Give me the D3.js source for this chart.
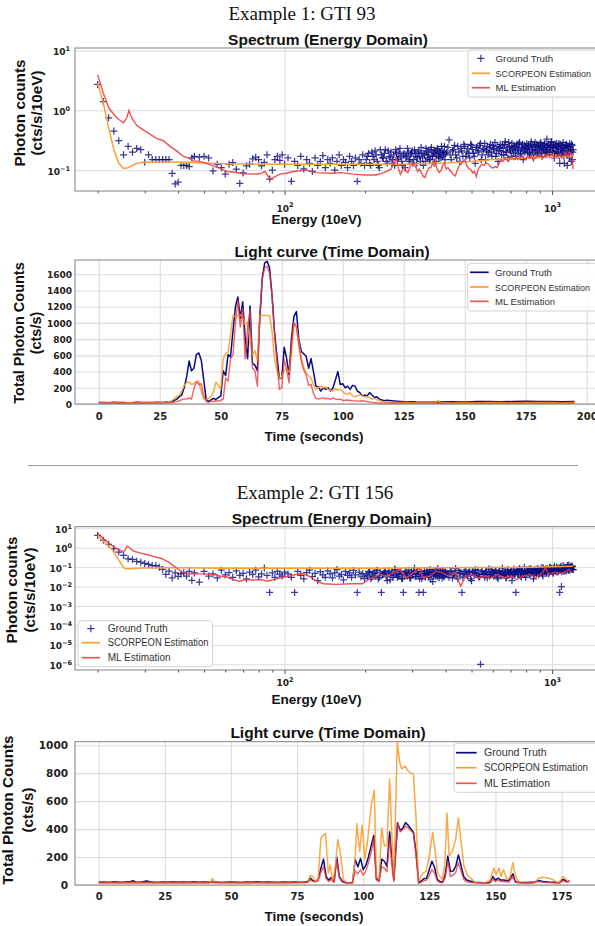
<!DOCTYPE html>
<html>
<head>
<meta charset="utf-8">
<script src="https://cdn.jsdelivr.net/npm/d3@7/dist/d3.min.js"></script>
<style>
html,body{margin:0;padding:0;background:#fff;}
svg{display:block;}
</style>
</head>
<body>
<svg id="fig" width="595" height="926" xmlns="http://www.w3.org/2000/svg"></svg>
<script>
// ======================= DATA =======================
const seriesNames = ["Ground Truth", "SCORPEON Estimation", "ML Estimation"];
const exampleTitles = ["Example 1: GTI 93", "Example 2: GTI 156"];
const spectrumTitle = "Spectrum (Energy Domain)";
const lightTitle = "Light curve (Time Domain)";
const spectrumYLabel = ["Photon counts", "(cts/s/10eV)"];
const lightYLabel = ["Total Photon Counts", "(cts/s)"];
const spectrumXLabel = "Energy (10eV)";
const lightXLabel = "Time (seconds)";

// tick labels
const specXTickExp = [2, 3];
const specXMinor = [20,30,40,50,60,70,80,90,200,300,400,500,600,700,800,900];
const spec93YTickExp = [-1, 0, 1];
const spec156YTickExp = [-6, -5, -4, -3, -2, -1, 0, 1];
const light93XTicks = [0, 25, 50, 75, 100, 125, 150, 175, 200];
const light93YTicks = [0, 200, 400, 600, 800, 1000, 1200, 1400, 1600];
const light156XTicks = [0, 25, 50, 75, 100, 125, 150, 175];
const light156YTicks = [0, 200, 400, 600, 800, 1000];

// Energy channels (10 eV) of Ground Truth markers
const gtEnergyA = d3.range(20, 46, 1);     // 20..45
const gtEnergyB = d3.range(46, 101, 2);    // 46..100
const gtEnergyC = d3.range(103, 200, 3);   // 103..199
const gtEnergyD = d3.range(202, 399, 4);   // 202..398
const gtEnergyE = d3.range(404, 1197, 8);  // 404..1196
const gtEnergyF = d3.range(204, 401, 4);   // 204..400
const gtEnergyG = d3.range(408, 1201, 8);  // 408..1200

// ---- Example 1 (GTI 93) spectrum ----
const gt93A = [2.7,1.4,0.75,0.45,0.31,0.18,0.25,0.2,0.23,0.22,0.135,0.18,0.15,0.15,0.15,0.15,0.15,0.15,0.088,0.059,0.063,0.12,0.12,0.12,0.115,0.16];
const gt93B = [0.17,0.165,0.17,0.16,0.097,0.125,0.11,0.086,0.125,0.134,0.104,0.06,0.09,0.118,0.126,0.155,0.165,0.15,0.118,0.135,0.18,0.071,0.1,0.15,0.17,0.145,0.18,0.125];
const gt93C = [0.16,0.065,0.14,0.12,0.17,0.105,0.15,0.13,0.095,0.16,
               0.12,0.14,0.175,0.11,0.15,0.13,0.16,0.1,0.14,0.18,
               0.12,0.15,0.135,0.11,0.17,0.14,0.12,0.16,0.065,0.15,
               0.13,0.18,0.12];
const gt93D = [0.15,0.19,0.12,0.17,0.21,0.14,0.11,0.18,0.16,0.22,
               0.13,0.17,0.2,0.15,0.12,0.19,0.16,0.23,0.14,0.18,
               0.11,0.17,0.2,0.15,0.19,0.13,0.22,0.17,0.16,0.21,
               0.14,0.19,0.12,0.18,0.23,0.16,0.2,0.15,0.24,0.17,
               0.13,0.21,0.18,0.22,0.16,0.19,0.25,0.17,0.2,0.15];
const gt93E = [0.2,0.32,0.15,0.22,0.18,0.25,0.14,0.21,0.27,0.17,
               0.23,0.16,0.26,0.19,0.13,0.24,0.21,0.28,0.18,0.22,
               0.15,0.25,0.2,0.27,0.17,0.23,0.29,0.19,0.14,0.24,
               0.21,0.26,0.18,0.3,0.2,0.16,0.25,0.22,0.28,0.19,
               0.24,0.17,0.27,0.21,0.29,0.19,0.23,0.15,0.26,0.22,
               0.28,0.2,0.24,0.18,0.3,0.22,0.16,0.26,0.21,0.27,
               0.19,0.25,0.23,0.29,0.17,0.24,0.21,0.28,0.2,0.33,
               0.22,0.26,0.18,0.25,0.3,0.2,0.24,0.16,0.27,0.21,
               0.25,0.19,0.28,0.13,0.23,0.26,0.2,0.29,0.17,0.24,
               0.21,0.27,0.12,0.25,0.19,0.28,0.22,0.14,0.26,0.2];
const gt93F = [0.17,0.13,0.2,0.15,0.18,0.12,0.22,0.16,0.19,0.14,
               0.21,0.16,0.13,0.18,0.22,0.15,0.2,0.17,0.12,0.19,
               0.16,0.23,0.14,0.18,0.21,0.15,0.19,0.13,0.2,0.17,
               0.24,0.16,0.19,0.14,0.21,0.18,0.15,0.22,0.17,0.2,
               0.19,0.14,0.23,0.17,0.2,0.16,0.21,0.18,0.25,0.19];
const gt93G = [0.24,0.18,0.21,0.26,0.16,0.2,0.23,0.17,0.25,0.2,
               0.19,0.27,0.22,0.17,0.24,0.2,0.26,0.15,0.23,0.28,
               0.21,0.18,0.24,0.2,0.26,0.22,0.17,0.25,0.21,0.27,
               0.18,0.23,0.27,0.2,0.24,0.29,0.21,0.17,0.23,0.26,
               0.2,0.25,0.22,0.28,0.18,0.24,0.27,0.21,0.2,0.25,
               0.23,0.26,0.19,0.27,0.22,0.25,0.2,0.29,0.24,0.18,
               0.26,0.22,0.28,0.2,0.25,0.23,0.27,0.19,0.24,0.22,
               0.27,0.2,0.24,0.29,0.21,0.26,0.23,0.19,0.25,0.28,
               0.2,0.24,0.17,0.27,0.22,0.18,0.25,0.21,0.13,0.26,
               0.23,0.18,0.25,0.2,0.16,0.24,0.21,0.27,0.15,0.22];
const sc93Energy = [20,21,22,23,24,25,26,28,30,35,40,50,60,80,100,150,200,300,400,500,600,800,1000,1200];
const sc93Value  = [2.85,1.33,0.51,0.22,0.13,0.107,0.11,0.13,0.135,0.137,0.137,0.132,0.128,0.126,0.125,0.125,0.125,0.127,0.132,0.14,0.15,0.16,0.165,0.17];
const ml93Energy = [20,21,22,23,24,25,25.7,26.2,26.8,28,
  29.6,31.4,33.2,35.2,37.3,39.5,41.8,43.7,45.6,48.3,
  51.1,54.1,57.3,60.7,64.3,68.1,72.1,76.4,80.9,84.5,
  88.2,90.8,96.1,101.8,107.9,114,121,130,148,163,
  180,199,219,234,250,256,262,266,271,276,
  280,285,289,295,300,304,310,315,319,325,
  330,335,341,347,352,358,363,368,374,379,
  385,390,396,402,408,414,420,427,435,442,
  450,457,464,472,480,488,496,505,513,521,
  530,538,547,556,565,574,584,594,604,614,
  624,634,644,655,666,676,688,699,710,722,
  734,746,758,770,783,796,809,822,836,850,
  864,878,893,907,922,937,953,968,984,1000,
  1017,1034,1051,1068,1086,1104,1122,1140,1159,1178,
  1190,1197];
const ml93Value = [3.9,1.94,1.1,0.85,0.7,0.62,0.75,0.99,0.75,0.56,
  0.47,0.4,0.34,0.31,0.25,0.21,0.17,0.16,0.143,0.14,
  0.13,0.118,0.108,0.095,0.093,0.089,0.087,0.086,0.087,0.095,
  0.071,0.075,0.086,0.089,0.095,0.098,0.1,0.091,0.089,0.091,
  0.086,0.083,0.083,0.09,0.104,0.13,0.156,0.11,0.085,0.1,
  0.12,0.095,0.091,0.115,0.13,0.13,0.11,0.095,0.104,0.09,
  0.079,0.075,0.095,0.11,0.11,0.13,0.15,0.12,0.1,0.091,
  0.1,0.12,0.13,0.105,0.11,0.1,0.095,0.085,0.08,0.1,
  0.12,0.125,0.14,0.15,0.12,0.105,0.104,0.09,0.095,0.078,
  0.105,0.115,0.125,0.12,0.13,0.13,0.12,0.11,0.11,0.115,
  0.11,0.13,0.15,0.14,0.155,0.15,0.14,0.165,0.16,0.15,
  0.165,0.15,0.16,0.17,0.16,0.15,0.17,0.16,0.175,0.15,
  0.16,0.18,0.17,0.18,0.16,0.175,0.17,0.19,0.18,0.19,
  0.16,0.18,0.17,0.185,0.16,0.18,0.2,0.17,0.2,0.19,
  0.17,0.104];

// ---- Example 1 (GTI 93) light curve ----
const gt93Time = [0,2,4,6,8,10,12,14,16,18,20,22,24,26,28,30,
  31,32,33,34,35,36,37,38,39,40,41,42,43,44,45,46,47,48,49,50,
  51,52,53,54,55,56,57,58,59,60,61,62,63,64,65,66,67,68,69,70,
  71,72,73,74,75,76,77,78,79,80,81,82,83,84,85,86,87,88,89,90,
  91,92,93,94,95,96,97,98,99,100,101,102,103,104,105,106,107,108,109,110,
  111,112,113,114,115,116,117,118,
  120,122,124,126,128,130,
  135,140,145,150,155,160,165,170,175,180,185,190,195];
const gt93Counts = [18,20,15,22,17,20,16,18,22,17,20,18,22,20,25,30,
  45,60,90,110,200,330,530,410,440,610,
  630,540,300,60,30,50,70,55,80,100,
  410,350,610,580,900,1200,1320,1060,1260,820,
  560,1210,500,480,410,1050,1550,1740,1760,1680,
  1350,900,600,310,320,700,560,360,820,1080,
  1140,800,650,620,590,440,560,400,220,210,
  160,200,180,200,160,200,300,400,240,250,
  200,220,180,230,220,160,140,100,110,100,
  140,110,80,90,60,50,40,45,
  40,35,30,25,28,25,
  22,25,28,25,30,32,28,30,35,30,32,28,30];
const sc93Time = [0,5,10,13,15,20,25,28,
  30,31,32,33,34,35,36,37,38,39,40,
  41,42,43,44,45,46,47,48,49,50,
  51,52,53,54,55,56,57,58,59,60,
  61,62,63,64,65,66,67,68,69,70,
  71,72,73,74,75,76,77,78,79,80,
  81,82,83,84,85,86,87,88,89,90,
  91,92,93,94,95,96,97,98,99,100,
  101,102,103,104,105,106,107,108,109,110,
  111,112,113,114,115,116,
  118,120,125,130,135,138,139,140,145,150,155,160,165,170,175,180,185,190,195];
const sc93Counts = [12,15,12,20,14,15,18,22,
  40,70,90,110,160,230,260,275,240,250,275,
  280,150,60,50,70,90,150,270,230,180,
  560,620,640,850,1090,1080,1090,1100,1060,980,
  1010,750,600,660,530,1090,1090,1090,1090,1090,
  900,560,420,310,330,420,430,390,620,980,
  960,760,560,460,380,350,320,240,180,200,
  220,200,210,180,170,160,190,170,180,150,
  130,120,140,100,90,100,110,100,90,85,
  80,60,70,50,45,30,
  25,20,18,15,18,20,45,18,15,18,15,18,20,15,18,20,18,15,18];
const ml93Time = [0,3,6,9,12,15,18,21,24,27,30,
  32,33,34,35,36,37,38,39,40,
  41,42,43,44,45,46,47,48,49,50,
  51,52,53,54,55,56,57,58,59,60,
  61,62,63,64,65,66,67,68,69,70,
  71,72,73,74,75,76,77,78,79,80,
  81,82,83,84,85,86,87,88,89,90,
  91,92,93,94,95,96,97,98,99,100,
  102,104,106,108,110,112,114,116,120,130,140,150,160,170,180,190,195];
const ml93Counts = [10,14,10,13,10,12,10,13,11,12,15,
  30,40,55,60,60,75,60,190,280,
  240,250,100,30,20,35,30,40,35,45,
  60,320,280,560,600,990,1280,950,1180,560,
  930,1160,440,410,220,1100,1540,1680,1700,1610,
  1340,880,530,180,200,550,420,260,740,1010,
  950,720,530,420,360,230,240,130,70,60,
  70,75,65,70,55,75,60,55,60,45,
  50,40,35,40,30,20,15,12,10,12,10,12,10,12,10,12,10];

// ---- Example 2 (GTI 156) spectrum ----
const gt156A = [4.3,2.4,1.5,0.9,0.6,0.4,0.27,0.25,0.2,0.18,0.155,0.137,0.12,0.12,0.1,0.076,0.042,0.062,0.028,0.05,0.034,0.045,0.051,0.035,0.06,0.021];
const gt156B = [0.05,0.017,0.06,0.035,0.045,0.028,0.07,0.04,0.052,0.03,0.065,0.038,0.048,0.025,0.055,0.042,0.07,0.032,0.045,0.09,0.038,0.005,0.05,0.03,0.06,0.044,0.035,0.055];
const gt156C = [0.045,0.03,0.005,0.06,0.038,0.025,0.052,0.07,0.033,0.048,
                0.02,0.058,0.04,0.03,0.065,0.045,0.028,0.05,0.075,0.035,
                0.042,0.022,0.06,0.038,0.05,0.03,0.068,0.04,0.005,0.055,
                0.032,0.047,0.026];
const gt156D = [0.04,0.06,0.025,0.05,0.035,0.07,0.03,0.005,0.045,0.055,
                0.02,0.065,0.04,0.03,0.08,0.045,0.035,0.06,0.025,0.005,
                0.05,0.038,0.07,0.028,0.055,0.042,0.09,0.033,0.06,0.005,
                0.045,0.025,0.005,0.065,0.04,0.052,0.03,0.075,0.045,0.018,
                0.06,0.035,0.05,0.085,0.028,0.055,0.04,0.07,0.032,0.06];
const gt156E = [0.05,0.03,0.065,0.04,0.085,0.025,0.055,0.005,0.045,0.07,
                0.035,0.06,0.02,0.05,0.075,0.04,0.03,0.000001,0.065,0.045,
                0.055,0.028,0.08,0.042,0.06,0.035,0.07,0.05,0.025,0.065,
                0.045,0.09,0.038,0.055,0.03,0.075,0.048,0.062,0.02,0.058,
                0.04,0.005,0.07,0.05,0.085,0.035,0.06,0.045,0.1,0.03,
                0.065,0.05,0.08,0.04,0.07,0.055,0.025,0.075,0.06,0.045,
                0.085,0.04,0.065,0.055,0.095,0.035,0.07,0.06,0.08,0.05,
                0.075,0.045,0.1,0.06,0.085,0.07,0.05,0.11,0.065,0.08,
                0.055,0.09,0.07,0.005,0.1,0.01,0.075,0.12,0.06,0.085,
                0.095,0.065,0.11,0.08,0.13,0.07,0.1,0.09,0.115,0.075];
const gt156F = [0.035,0.055,0.03,0.045,0.065,0.025,0.05,0.04,0.06,0.032,
                0.048,0.022,0.055,0.038,0.07,0.03,0.045,0.058,0.026,0.042,
                0.062,0.035,0.05,0.028,0.045,0.068,0.033,0.055,0.04,0.025,
                0.058,0.036,0.048,0.03,0.065,0.042,0.052,0.024,0.06,0.038,
                0.045,0.07,0.032,0.05,0.04,0.062,0.028,0.055,0.035,0.048];
const gt156G = [0.04,0.06,0.028,0.05,0.035,0.068,0.045,0.03,0.058,0.04,
                0.052,0.025,0.062,0.038,0.048,0.07,0.033,0.055,0.042,0.03,
                0.06,0.045,0.035,0.072,0.05,0.04,0.065,0.03,0.055,0.048,
                0.038,0.062,0.045,0.028,0.07,0.052,0.04,0.06,0.035,0.08,
                0.05,0.065,0.042,0.075,0.055,0.03,0.068,0.048,0.06,0.04,
                0.058,0.072,0.045,0.085,0.05,0.065,0.038,0.07,0.055,0.08,
                0.06,0.048,0.078,0.065,0.045,0.09,0.058,0.07,0.05,0.085,
                0.068,0.055,0.095,0.06,0.075,0.05,0.088,0.07,0.062,0.1,
                0.075,0.06,0.09,0.068,0.11,0.058,0.085,0.072,0.1,0.065,
                0.09,0.078,0.12,0.07,0.095,0.085,0.11,0.08,0.105,0.075];
const sc156Energy = [20,21.3,22.6,23.5,24.6,25.2,26.3,29,35,40,60,100,140,200,300,400,600,800,1000,1200];
const sc156Value  = [4.3,1.8,0.82,0.37,0.137,0.085,0.082,0.09,0.092,0.092,0.088,0.087,0.087,0.088,0.09,0.092,0.095,0.1,0.105,0.11];
const ml156Energy = [20,21.3,22.6,23.5,24.6,25.2,25.8,26.3,27.3,29.2,
  31,32.8,34.7,36.8,39,41.4,43.1,46,50.1,54.5,
  57.5,60.7,64,68,72,76.4,81,86.2,91.6,97.3,
  103.4,110,116.8,124,131.8,140,156,179,195,206,
  228,241,255,270,286,302,320,329,348,368,
  390,412,436,455,475,503,531,561,593,626,
  662,699,738,780,824,870,919,945,971,1026,
  1083,1130,1160,1180];
const ml156Value = [5.5,2.5,1.3,0.89,0.67,0.67,1.22,1.0,0.67,0.51,
  0.42,0.34,0.28,0.18,0.104,0.055,0.045,0.045,0.045,0.042,
  0.034,0.032,0.023,0.019,0.023,0.022,0.023,0.019,0.023,0.028,
  0.034,0.042,0.047,0.034,0.019,0.014,0.013,0.014,0.014,0.023,
  0.042,0.034,0.051,0.076,0.028,0.051,0.082,0.028,0.034,0.062,
  0.051,0.034,0.051,0.0104,0.034,0.042,0.028,0.034,0.028,0.042,
  0.028,0.034,0.023,0.034,0.042,0.03,0.051,0.093,0.042,0.055,
  0.047,0.062,0.076,0.051];

// ---- Example 2 (GTI 156) light curve ----
const gt156Time = [0,2,4,6,8,10,12,13,14,16,18,20,22,24,26,28,30,32,34,36,
  38,40,42,44,46,48,50,52,54,56,58,60,62,64,66,68,70,72,74,76,
  78,79,80,81,82,83,84,85,86,87,88,89,90,91,92,93,94,95,96,97,
  98,99,100,101,102,103,104,105,106,107,108,109,110,111,111.6,113,114,115,116,117,
  118,119,120,121,122,123,124,125,126,127,128,129,130,131,132,133,134,135,136,137,
  138,139,140,142,144,146,148,149,150,151,152,153,155,156.6,157.5,159,162,165,166,168,
  170,172,174,175.6,177,178];
const gt156Counts = [20,22,18,24,20,22,25,30,22,20,28,22,18,22,20,24,20,22,19,24,
  20,22,20,22,18,20,22,20,18,22,20,24,20,22,20,18,22,20,22,20,
  22,25,50,30,28,40,120,185,60,35,55,25,200,60,30,20,15,15,20,183,
  130,190,110,140,200,280,354,45,30,185,170,135,380,160,37,446,390,407,446,427,
  402,378,232,15,30,45,49,110,170,125,40,25,20,73,207,98,100,134,215,140,
  61,37,30,20,18,15,20,61,35,49,35,35,30,80,25,20,18,22,32,25,
  22,20,18,40,25,30];
const sc156Time = [0,5,10,15,20,25,30,35,40,42,
  43,44,50,55,60,65,70,75,78,79,
  80,81,82,83,84,85,85.8,86.8,87.5,88.5,
  89.5,90.4,91.4,92.5,94,96,97,97.6,98.7,99.6,
  100.6,101.6,103,104.2,105,106,107,108,109,110,
  111,111.6,112.9,113.8,114.6,115.9,116.9,118.1,119,120,
  120.9,122.5,123.8,125,126.3,127.1,128.1,130,130.9,131.7,
  132.5,133.8,135,136,136.9,138.1,139.4,140.6,142.5,145.6,
  148.1,149.4,150.3,151.3,152.1,153.1,154.1,155.4,156.6,157.5,
  158.8,162,165,166.3,168.1,170,171.9,173.8,175.6,176.9,178];
const sc156Counts = [12,14,12,14,12,14,12,14,12,15,
  45,15,12,14,12,14,12,14,14,20,
  70,60,25,40,333,357,370,83,143,24,
  130,326,226,40,15,12,200,440,240,428,
  183,305,560,680,61,40,410,280,280,760,
  280,49,1020,880,830,850,817,800,795,475,
  25,85,98,207,378,256,85,37,160,515,
  207,244,330,480,330,134,73,49,17,12,
  37,122,73,122,61,110,49,49,160,73,
  15,12,15,49,56,49,37,12,61,37,20];
const ml156Time = [0,4,8,12,16,20,24,28,32,36,40,44,48,52,56,60,64,68,72,76,
  79,80,81,82,83,84,85,86,87,88,
  89,90,91,92,93,95,96,97,98,99,
  100,101,102,103,104,105,106,107,108,109,
  110,111,111.6,113,114,115,116,117,118,119,
  120,121,122,123,124,125,126,127,128,129,
  130,131,132,133,134,135,136,137,138,139,
  140,142,146,148,149,150,151,152,153,155,
  156.6,157.5,159,163,166,168,170,172,174,175.6,
  177,178];
const ml156Counts = [18,20,18,20,18,20,18,20,18,20,18,20,18,20,18,20,18,20,18,20,
  20,35,25,22,30,90,130,45,25,40,
  20,170,50,22,15,12,15,100,80,110,
  70,100,160,230,330,35,25,130,120,95,
  330,110,25,440,380,395,420,410,390,370,
  210,12,20,30,35,70,110,85,30,18,
  15,50,170,60,70,90,160,100,40,25,
  20,15,12,15,40,25,35,25,25,20,
  60,20,15,12,25,20,18,15,12,30,
  20,25];

// ======================= DRAWING =======================
const svg = d3.select("#fig");
const SANS = "'Liberation Sans', Arial, Helvetica, sans-serif";
const DJV = "'DejaVu Sans', Verdana, sans-serif";
const SERIF = "'Liberation Serif', 'Times New Roman', serif";
const COL = {gt: "#0a0a82", sc: "#f9a033", ml: "#ee3a3a", grid: "#dcdcdc", spine: "#808080", text: "#111"};

function zip(xs, ys) {
  const n = Math.min(xs.length, ys.length);
  return d3.range(n).map(i => [xs[i], ys[i]]);
}
const gtSpec93 = [].concat(zip(gtEnergyA, gt93A), zip(gtEnergyB, gt93B), zip(gtEnergyC, gt93C),
  zip(gtEnergyD, gt93D), zip(gtEnergyF, gt93F), zip(gtEnergyE, gt93E), zip(gtEnergyG, gt93G));
const gtSpec156 = [].concat(zip(gtEnergyA, gt156A), zip(gtEnergyB, gt156B), zip(gtEnergyC, gt156C),
  zip(gtEnergyD, gt156D), zip(gtEnergyF, gt156F), zip(gtEnergyE, gt156E), zip(gtEnergyG, gt156G));

function txt(x, y, s, o = {}) {
  return svg.append("text").attr("x", x).attr("y", y)
    .attr("text-anchor", o.anchor || "middle")
    .attr("font-family", o.family || SANS)
    .attr("font-weight", o.weight || "normal")
    .attr("font-size", o.size || 12)
    .attr("fill", o.fill || COL.text)
    .text(s);
}
function yLabel(lines, xs, yc, size) {
  lines.forEach((s, i) => {
    svg.append("text").attr("transform", `translate(${xs[i]},${yc}) rotate(-90)`)
      .attr("text-anchor", "middle").attr("font-family", SANS).attr("font-weight", "bold")
      .attr("font-size", size).attr("fill", COL.text).text(s);
  });
}
function supText(sel, exp, size) {
  sel.text(null);
  sel.append("tspan").text("10");
  sel.append("tspan").attr("dy", -size * 0.45).attr("font-size", size * 0.72)
    .text(exp < 0 ? "\u2212" + (-exp) : String(exp));
}
function plusPath(px, py, r) {
  return `M${px - r},${py}H${px + r}M${px},${py - r}V${py + r}`;
}
function legend(o) {
  const g = svg.append("g");
  g.append("rect").attr("x", o.x).attr("y", o.y).attr("width", o.w).attr("height", o.h).attr("rx", 3)
    .attr("fill", "#fff").attr("fill-opacity", 0.85).attr("stroke", "#d2d2d2").attr("stroke-width", 1);
  const cols = [COL.gt, COL.sc, COL.ml];
  seriesNames.forEach((name, i) => {
    const yy = o.rows[i];
    if (i === 0 && o.marker) {
      g.append("path").attr("d", plusPath((o.lx0 + o.lx1) / 2, yy, 3.6))
        .attr("stroke", COL.gt).attr("stroke-opacity", 0.8).attr("stroke-width", 1.2).attr("fill", "none");
    } else {
      g.append("line").attr("x1", o.lx0).attr("x2", o.lx1).attr("y1", yy).attr("y2", yy)
        .attr("stroke", cols[i]).attr("stroke-width", 1.7).attr("stroke-opacity", i === 2 ? 0.85 : 1);
    }
    g.append("text").attr("x", o.tx).attr("y", yy + 3.6).attr("font-family", SANS)
      .attr("font-size", o.size).attr("fill", "#333")
      .attr("textLength", o.widths[i]).attr("lengthAdjust", "spacingAndGlyphs").text(name);
  });
}

let clipCount = 0;
function makeClip(l, t, w, h) {
  const id = "clip" + (clipCount++);
  svg.append("clipPath").attr("id", id).append("rect").attr("x", l).attr("y", t).attr("width", w).attr("height", h);
  return id;
}
function frame(o) {
  svg.append("rect").attr("x", o.left).attr("y", o.top).attr("width", o.right - o.left).attr("height", o.bottom - o.top)
    .attr("fill", "none").attr("stroke", COL.spine).attr("stroke-width", 1);
}

function spectrum(o) {
  const x = d3.scaleLog().domain(o.xDomain).range([o.left, o.right]);
  const y = d3.scaleLog().domain(o.yDomain).range([o.bottom, o.top]);
  const w = o.right - o.left, h = o.bottom - o.top;
  const gy = svg.append("g").attr("transform", `translate(${o.left},0)`)
    .call(d3.axisLeft(y).tickValues(o.yExp.map(e => Math.pow(10, e))).tickSize(-w).tickFormat(""));
  gy.select(".domain").remove();
  gy.selectAll(".tick line").attr("stroke", COL.grid).attr("stroke-width", 1);
  const gx = svg.append("g").attr("transform", `translate(0,${o.bottom})`)
    .call(d3.axisBottom(x).tickValues(specXTickExp.map(e => Math.pow(10, e))).tickSize(-h).tickFormat(""));
  gx.select(".domain").remove();
  gx.selectAll(".tick line").attr("stroke", COL.grid).attr("stroke-width", 1);
  const cid = makeClip(o.left, o.top, w, h);
  const plot = svg.append("g").attr("clip-path", `url(#${cid})`);
  plot.append("g").selectAll("path").data(o.gt).join("path")
    .attr("d", d => plusPath(x(d[0]), y(d[1]), 3.5))
    .attr("stroke", COL.gt).attr("stroke-opacity", 0.8).attr("stroke-width", 1.25).attr("fill", "none");
  const line = d3.line().x(d => x(d[0])).y(d => y(d[1]));
  plot.append("path").datum(o.sc).attr("d", line).attr("fill", "none")
    .attr("stroke", COL.sc).attr("stroke-width", 1.5);
  plot.append("path").datum(o.ml).attr("d", line).attr("fill", "none")
    .attr("stroke", COL.ml).attr("stroke-opacity", 0.88).attr("stroke-width", 1.4);
  frame(o);
  const mn = svg.append("g").attr("transform", `translate(0,${o.bottom})`)
    .call(d3.axisBottom(x).tickValues(specXMinor).tickSize(2.5).tickFormat(""));
  mn.select(".domain").remove();
  mn.selectAll(".tick line").attr("stroke", "#555");
  const mj = svg.append("g").attr("transform", `translate(0,${o.bottom})`)
    .call(d3.axisBottom(x).tickValues(specXTickExp.map(e => Math.pow(10, e))).tickSize(4));
  mj.select(".domain").remove();
  mj.selectAll(".tick line").attr("stroke", "#555");
  mj.selectAll(".tick text").each(function (d) { supText(d3.select(this), Math.round(Math.log10(d)), o.xtSize); })
    .attr("y", o.xtBase - o.bottom).attr("dy", null)
    .attr("font-family", DJV).attr("font-weight", "bold").attr("font-size", o.xtSize).attr("fill", "#222");
  const ya = svg.append("g").attr("transform", `translate(${o.left},0)`)
    .call(d3.axisLeft(y).tickValues(o.yExp.map(e => Math.pow(10, e))).tickSize(0));
  ya.select(".domain").remove();
  ya.selectAll(".tick text").each(function (d) { supText(d3.select(this), Math.round(Math.log10(d)), o.ytSize); })
    .attr("x", o.ytRight - o.left).attr("dy", "0.45em")
    .attr("font-family", DJV).attr("font-weight", "bold").attr("font-size", o.ytSize).attr("fill", "#222");
  txt(o.titleX, o.titleY, spectrumTitle, {weight: "bold", size: 15.5});
  txt(o.xlabX, o.xlabY, spectrumXLabel, {weight: "bold", size: 13.5});
  yLabel(spectrumYLabel, o.ylabXs, o.ylabY, 15.3);
  legend(o.legend);
}

function light(o) {
  const x = d3.scaleLinear().domain(o.xDomain).range([o.left, o.right]);
  const y = d3.scaleLinear().domain(o.yDomain).range([o.bottom, o.top]);
  const w = o.right - o.left, h = o.bottom - o.top;
  const gy = svg.append("g").attr("transform", `translate(${o.left},0)`)
    .call(d3.axisLeft(y).tickValues(o.yTicks).tickSize(-w).tickFormat(""));
  gy.select(".domain").remove();
  gy.selectAll(".tick line").attr("stroke", COL.grid).attr("stroke-width", 1.1);
  const gx = svg.append("g").attr("transform", `translate(0,${o.bottom})`)
    .call(d3.axisBottom(x).tickValues(o.xTicks).tickSize(-h).tickFormat(""));
  gx.select(".domain").remove();
  gx.selectAll(".tick line").attr("stroke", COL.grid).attr("stroke-width", 1.1);
  const cid = makeClip(o.left, o.top, w, h);
  const plot = svg.append("g").attr("clip-path", `url(#${cid})`);
  const line = d3.line().x(d => x(d[0])).y(d => y(d[1]));
  plot.append("path").datum(o.gt).attr("d", line).attr("fill", "none")
    .attr("stroke", COL.gt).attr("stroke-width", 1.5).attr("stroke-linejoin", "round");
  plot.append("path").datum(o.sc).attr("d", line).attr("fill", "none")
    .attr("stroke", COL.sc).attr("stroke-opacity", 0.9).attr("stroke-width", 1.5).attr("stroke-linejoin", "round");
  plot.append("path").datum(o.ml).attr("d", line).attr("fill", "none")
    .attr("stroke", COL.ml).attr("stroke-opacity", 0.8).attr("stroke-width", 1.4).attr("stroke-linejoin", "round");
  frame(o);
  const xa = svg.append("g").attr("transform", `translate(0,${o.bottom})`)
    .call(d3.axisBottom(x).tickValues(o.xTicks).tickSize(0).tickFormat(d3.format("d")));
  xa.select(".domain").remove();
  xa.selectAll(".tick text").attr("y", o.xtBase - o.bottom).attr("dy", null)
    .attr("font-family", DJV).attr("font-weight", "bold").attr("font-size", o.xtSize).attr("fill", "#222");
  const ya = svg.append("g").attr("transform", `translate(${o.left},0)`)
    .call(d3.axisLeft(y).tickValues(o.yTicks).tickSize(0).tickFormat(d3.format("d")));
  ya.select(".domain").remove();
  ya.selectAll(".tick text").attr("x", o.ytRight - o.left).attr("dy", "0.36em")
    .attr("font-family", DJV).attr("font-weight", "bold").attr("font-size", o.ytSize).attr("fill", "#222");
  txt(o.titleX, o.titleY, lightTitle, {weight: "bold", size: 15.5});
  txt(o.xlabX, o.xlabY, lightXLabel, {weight: "bold", size: 13.5});
  yLabel(lightYLabel, o.ylabXs, o.ylabY, o.ylabSize);
  legend(o.legend);
}

// Example titles
txt(302, 19.5, exampleTitles[0], {family: SERIF, size: 19});
txt(315, 498.5, exampleTitles[1], {family: SERIF, size: 19});

// separator
svg.append("line").attr("x1", 28).attr("x2", 578).attr("y1", 465.5).attr("y2", 465.5)
  .attr("stroke", "#9a9a9a").attr("stroke-width", 1);

spectrum({
  left: 75, right: 597, top: 48, bottom: 191,
  xDomain: [Math.pow(10, 1.2165), Math.pow(10, 3.168)],
  yDomain: [Math.pow(10, -1.348), Math.pow(10, 1.04)],
  yExp: spec93YTickExp,
  gt: gtSpec93, sc: zip(sc93Energy, sc93Value), ml: zip(ml93Energy, ml93Value),
  xtBase: 211.5, xtSize: 9, ytRight: 70, ytSize: 9,
  titleX: 328, titleY: 45, xlabX: 316.5, xlabY: 224,
  ylabXs: [25, 42], ylabY: 113,
  legend: {x: 468, y: 50, w: 140, h: 47, rows: [58.3, 73.3, 87.7], lx0: 471.7, lx1: 490, tx: 495.5,
           marker: true, size: 9.4, widths: [57.7, 95.5, 60.3]}
});

light({
  left: 75, right: 598.3, top: 260, bottom: 404,
  xDomain: [-9.75, 204.75], yDomain: [0, 1776],
  xTicks: light93XTicks, yTicks: light93YTicks,
  gt: zip(gt93Time, gt93Counts), sc: zip(sc93Time, sc93Counts), ml: zip(ml93Time, ml93Counts),
  xtBase: 420, xtSize: 10, ytRight: 72, ytSize: 9,
  titleX: 332, titleY: 256.7, xlabX: 314, xlabY: 440.7,
  ylabXs: [24, 41], ylabY: 333, ylabSize: 14.5,
  legend: {x: 467.7, y: 263.3, w: 140, h: 47.7, rows: [272.3, 287, 301.3], lx0: 470, lx1: 488.7, tx: 495,
           marker: false, size: 9.4, widths: [57, 95, 60]}
});

spectrum({
  left: 75, right: 597, top: 526.7, bottom: 670,
  xDomain: [Math.pow(10, 1.2165), Math.pow(10, 3.168)],
  yDomain: [Math.pow(10, -6.29), Math.pow(10, 1.08)],
  yExp: spec156YTickExp,
  gt: gtSpec156, sc: zip(sc156Energy, sc156Value), ml: zip(ml156Energy, ml156Value),
  xtBase: 686, xtSize: 9, ytRight: 72, ytSize: 9,
  titleX: 331.7, titleY: 523.5, xlabX: 316.5, xlabY: 703.5,
  ylabXs: [17, 35], ylabY: 590,
  legend: {x: 78, y: 620.7, w: 134.5, h: 46, rows: [628.7, 642.7, 657.7], lx0: 81.7, lx1: 100, tx: 107.7,
           marker: true, size: 10, widths: [60, 100.7, 63]}
});

light({
  left: 75, right: 595.8, top: 741.7, bottom: 885,
  xDomain: [-8.95, 187.95], yDomain: [0, 1025],
  xTicks: light156XTicks, yTicks: light156YTicks,
  gt: zip(gt156Time, gt156Counts), sc: zip(sc156Time, sc156Counts), ml: zip(ml156Time, ml156Counts),
  xtBase: 900, xtSize: 10, ytRight: 68, ytSize: 10.5,
  titleX: 328, titleY: 737.7, xlabX: 314, xlabY: 921,
  ylabXs: [13, 33], ylabY: 810, ylabSize: 15.3,
  legend: {x: 454, y: 743.3, w: 150, h: 49, rows: [752.7, 767.7, 783.3], lx0: 456, lx1: 476.7, tx: 484,
           marker: false, size: 10.3, widths: [62.7, 104, 66]}
});
</script>
</body>
</html>
